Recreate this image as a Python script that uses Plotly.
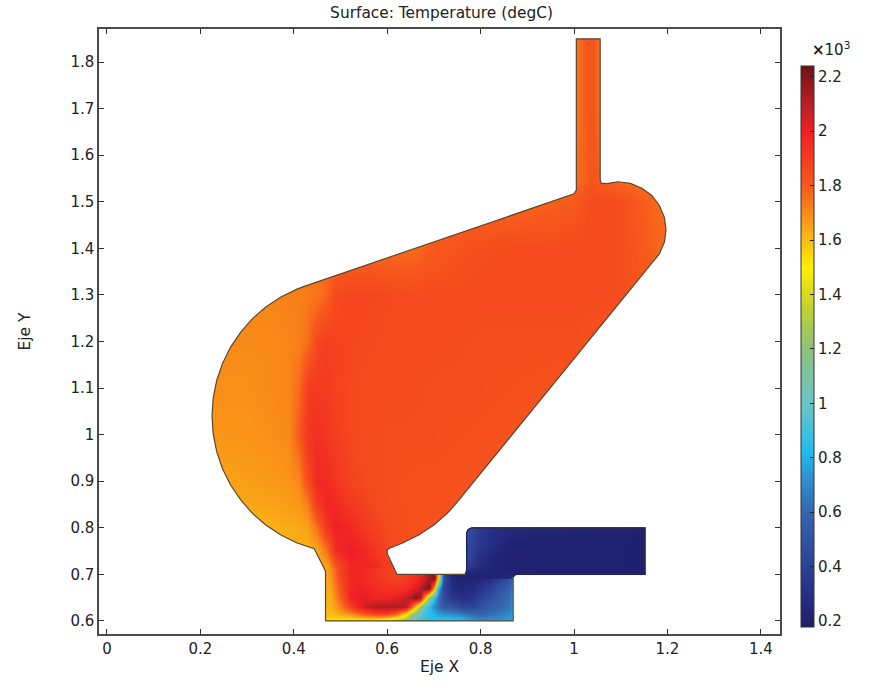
import plotly.graph_objects as go

CB_MIN, CB_MAX = 0.178, 2.24
cmap_values = [0.178, 0.3, 0.45, 0.6, 0.72, 0.82, 1.0, 1.2, 1.35, 1.5, 1.62, 1.8, 2.0, 2.1, 2.24]
cmap_colors = ["#1d1d6b", "#262f86", "#2f4a9c", "#3566ad", "#2f8fd0", "#1fbcee", "#6cc5c6", "#8cc37c",
               "#c2d12f", "#fff000", "#fbb116", "#f7591c", "#f01f24", "#b81f24", "#6e1216"]

# upper body (values x 10^3)
upper_x = [.20, .25, .30, .35, .39, .41, .43, .45, .47, .49, .52, .56, .60, .65, .70, .80, .90, 1.0, 1.02, 1.04, 1.06, 1.10, 1.15, 1.20]
upper_y = [.70, .75, .80, .85, .90, 1.0, 1.1, 1.2, 1.3, 1.4, 1.5, 1.55, 1.7, 1.85]
upper_t = [
 [1.6, 1.6, 1.6, 1.6, 1.6, 1.6, 1.6, 1.6, 1.6, 1.75, 1.95, 2.0, 1.92, 1.88, 1.85, 1.85, 1.85, 1.85, 1.85, 1.85, 1.85, 1.85, 1.85, 1.85],
 [1.62, 1.62, 1.62, 1.62, 1.62, 1.62, 1.62, 1.63, 1.75, 1.95, 2.02, 1.95, 1.87, 1.84, 1.82, 1.82, 1.82, 1.82, 1.82, 1.82, 1.82, 1.82, 1.82, 1.82],
 [1.6, 1.6, 1.61, 1.62, 1.63, 1.64, 1.65, 1.75, 1.92, 2.0, 1.97, 1.9, 1.85, 1.83, 1.82, 1.82, 1.82, 1.82, 1.82, 1.82, 1.82, 1.82, 1.82, 1.82],
 [1.62, 1.63, 1.64, 1.65, 1.66, 1.67, 1.72, 1.9, 1.98, 1.96, 1.92, 1.87, 1.84, 1.83, 1.83, 1.82, 1.82, 1.82, 1.82, 1.82, 1.82, 1.82, 1.82, 1.82],
 [1.64, 1.65, 1.66, 1.67, 1.68, 1.70, 1.85, 1.97, 1.96, 1.92, 1.88, 1.85, 1.84, 1.83, 1.83, 1.82, 1.82, 1.8, 1.8, 1.8, 1.8, 1.8, 1.8, 1.8],
 [1.67, 1.68, 1.68, 1.69, 1.70, 1.80, 1.92, 1.94, 1.92, 1.89, 1.86, 1.85, 1.84, 1.84, 1.84, 1.83, 1.82, 1.8, 1.8, 1.8, 1.8, 1.8, 1.8, 1.8],
 [1.69, 1.69, 1.69, 1.70, 1.71, 1.76, 1.89, 1.91, 1.90, 1.88, 1.86, 1.85, 1.85, 1.85, 1.84, 1.84, 1.83, 1.82, 1.81, 1.81, 1.8, 1.8, 1.8, 1.8],
 [1.69, 1.7, 1.7, 1.7, 1.71, 1.72, 1.76, 1.86, 1.89, 1.88, 1.87, 1.86, 1.85, 1.85, 1.85, 1.84, 1.84, 1.84, 1.83, 1.83, 1.82, 1.81, 1.79, 1.78],
 [1.7, 1.7, 1.71, 1.71, 1.72, 1.72, 1.73, 1.74, 1.78, 1.85, 1.87, 1.87, 1.86, 1.85, 1.85, 1.85, 1.85, 1.85, 1.85, 1.85, 1.85, 1.84, 1.81, 1.78],
 [1.76, 1.76, 1.76, 1.76, 1.76, 1.76, 1.76, 1.76, 1.76, 1.76, 1.76, 1.76, 1.76, 1.76, 1.8, 1.84, 1.85, 1.85, 1.85, 1.85, 1.85, 1.84, 1.8, 1.76],
 [1.77, 1.77, 1.77, 1.77, 1.77, 1.77, 1.77, 1.77, 1.77, 1.77, 1.77, 1.77, 1.77, 1.77, 1.77, 1.77, 1.77, 1.8, 1.83, 1.85, 1.85, 1.84, 1.79, 1.75],
 [1.75, 1.75, 1.75, 1.75, 1.75, 1.75, 1.75, 1.75, 1.75, 1.75, 1.75, 1.75, 1.75, 1.75, 1.75, 1.75, 1.75, 1.76, 1.78, 1.82, 1.79, 1.76, 1.76, 1.76],
 [1.72, 1.72, 1.72, 1.72, 1.72, 1.72, 1.72, 1.72, 1.72, 1.72, 1.72, 1.72, 1.72, 1.72, 1.72, 1.72, 1.72, 1.72, 1.79, 1.82, 1.72, 1.72, 1.72, 1.72],
 [1.72, 1.72, 1.72, 1.72, 1.72, 1.72, 1.72, 1.72, 1.72, 1.72, 1.72, 1.72, 1.72, 1.72, 1.72, 1.72, 1.72, 1.72, 1.79, 1.82, 1.72, 1.72, 1.72, 1.72],
]

# lower chamber
lower_x = [.46, .48, .50, .52, .54, .56, .58, .60, .62, .64, .65, .66, .67, .68, .69, .70, .71, .72, .74, .76, .78, .80, .82, .84, .86, .875]
lower_y = [.595, .605, .615, .63, .65, .67, .69, .705]
lower_t = [
 [1.55, 1.52, 1.5, 1.48, 1.48, 1.48, 1.46, 1.42, 1.3, 1.15, 1.05, .95, .9, .88, .85, .85, .85, .85, .85, .82, .78, .78, .78, .8, .82, .85],
 [1.56, 1.56, 1.55, 1.55, 1.56, 1.58, 1.58, 1.54, 1.46, 1.3, 1.15, 1.0, .92, .88, .85, .85, .85, .85, .82, .8, .72, .68, .7, .72, .75, .85],
 [1.58, 1.6, 1.64, 1.7, 1.78, 1.85, 1.9, 1.9, 1.8, 1.55, 1.35, 1.15, 1.0, .9, .85, .8, .75, .72, .7, .65, .6, .58, .62, .65, .7, .85],
 [1.6, 1.62, 1.72, 1.88, 2.0, 2.08, 2.12, 2.13, 2.13, 2.1, 1.9, 1.6, 1.25, 1.0, .85, .7, .62, .55, .5, .42, .42, .48, .55, .6, .65, .85],
 [1.6, 1.63, 1.78, 1.98, 2.02, 2.0, 1.98, 1.98, 2.02, 2.08, 2.12, 2.2, 2.15, 1.7, 1.2, .85, .65, .45, .35, .3, .33, .4, .48, .55, .62, .85],
 [1.6, 1.66, 1.82, 1.97, 2.0, 1.98, 1.95, 1.93, 1.93, 1.95, 1.98, 2.03, 2.1, 2.18, 2.2, 1.6, .8, .45, .28, .25, .27, .33, .4, .5, .58, .8],
 [1.6, 1.68, 1.85, 1.97, 1.98, 1.95, 1.92, 1.9, 1.88, 1.9, 1.93, 1.96, 2.0, 2.06, 2.15, 2.2, 1.5, .5, .25, .22, .23, .25, .3, .38, .5, .75],
 [1.6, 1.7, 1.88, 1.98, 1.98, 1.95, 1.92, 1.88, 1.86, 1.88, 1.9, 1.93, 1.97, 2.03, 2.12, 2.2, 1.6, .45, .23, .2, .21, .22, .24, .27, .35, .7],
]

# outlet duct
duct_x = [.76, .78, .80, .83, .87, .92, 1.0, 1.1, 1.16]
duct_y = [.70, .72, .74, .77, .80]
duct_t = [
 [.22, .22, .22, .22, .25, .2, .2, .2, .19],
 [.4, .35, .27, .22, .2, .2, .2, .2, .19],
 [.45, .4, .3, .24, .2, .2, .2, .2, .19],
 [.5, .42, .35, .27, .22, .2, .2, .2, .19],
 [.55, .45, .35, .3, .27, .25, .24, .23, .2],
]

# geometry outline
outline_x = [.468, .87, .87, .875, 1.152, 1.152, .781, .773, .77, .77, .767, .621, .60, .60, .605, .633, .6675, .70, .729, .749,
             1.183, 1.1935, 1.197, 1.1935, 1.183, 1.167, 1.1455, 1.1207, 1.094, 1.07, 1.058, 1.056, 1.056, 1.005, 1.005, 1.0,
             .424, .407, .3725, .340, .311, .286, .2645, .2475, .235, .2275, .225, .2275, .235, .2475, .2645, .286, .311, .340,
             .3725, .407, .444, .468, .468]
outline_y = [.60, .60, .695, .70, .70, .80, .80, .796, .788, .708, .70, .70, .745, .753, .756, .7675, .7845, .806, .8314, .854,
             1.3885, 1.4133, 1.44, 1.4667, 1.4915, 1.513, 1.529, 1.5395, 1.543, 1.539, 1.54, 1.548, 1.85, 1.85, 1.525, 1.517,
             1.319, 1.3125, 1.2955, 1.274, 1.2486, 1.2196, 1.1875, 1.153, 1.1164, 1.0785, 1.04, 1.0015, .9636, .927, .8925, .8604,
             .8314, .806, .7845, .7675, .755, .707, .60]

x_range = [-0.017, 1.441]
y_range = [0.572, 1.871]
x_ticks_step = 0.2
y_ticks_step = 0.1
cb_ticks = [0.2, 0.4, 0.6, 0.8, 1.0, 1.2, 1.4, 1.6, 1.8, 2.0, 2.2]
cb_ticktext = ["0.2", "0.4", "0.6", "0.8", "1", "1.2", "1.4", "1.6", "1.8", "2", "2.2"]

colorscale = [[(v - CB_MIN) / (CB_MAX - CB_MIN), c] for v, c in zip(cmap_values, cmap_colors)]
TXT = "#222222"
FONT = "DejaVu Sans"

fig = go.Figure()
for xs, ys, zs in [(upper_x, upper_y, upper_t), (lower_x, lower_y, lower_t), (duct_x, duct_y, duct_t)]:
    fig.add_trace(go.Heatmap(x=xs, y=ys, z=zs, coloraxis="coloraxis", zsmooth="best", hoverinfo="skip"))

# white mask outside geometry (outer ring wound opposite to the outline)
mask_x = [x_range[0], x_range[0], x_range[1], x_range[1], x_range[0], None] + outline_x
mask_y = [y_range[0], y_range[1], y_range[1], y_range[0], y_range[0], None] + outline_y
fig.add_trace(go.Scatter(x=mask_x, y=mask_y, mode="lines", fill="toself", fillcolor="white",
                         line=dict(width=0), hoverinfo="skip", showlegend=False))
fig.add_trace(go.Scatter(x=outline_x, y=outline_y, mode="lines", line=dict(color="#5a4830", width=1.2),
                         hoverinfo="skip", showlegend=False))
# cold walls have a blue-tinted edge
fig.add_trace(go.Scatter(x=outline_x[1:3], y=outline_y[1:3], mode="lines", line=dict(color="#2c86b4", width=1.2),
                         hoverinfo="skip", showlegend=False))
fig.add_trace(go.Scatter(x=outline_x[2:11], y=outline_y[2:11], mode="lines", line=dict(color="#1b1d60", width=1.2),
                         hoverinfo="skip", showlegend=False))

axis = dict(showgrid=False, zeroline=False, showline=True, linecolor="#4a4a4a", linewidth=1.5, mirror="allticks",
            ticks="inside", ticklen=5, tickcolor="#333333", tickwidth=1,
            tickfont=dict(family=FONT, size=15, color=TXT))
fig.update_layout(
    width=877, height=695, autosize=False,
    margin=dict(l=99, r=97, t=29, b=60.5),
    paper_bgcolor="white", plot_bgcolor="white",
    showlegend=False,
    font=dict(family=FONT, color=TXT),
    title=dict(text="Surface: Temperature (degC)", x=0.503, xref="paper", xanchor="center", y=0.982, yanchor="middle",
               font=dict(family=FONT, size=15.4, color=TXT)),
    xaxis=dict(range=x_range, tick0=0, dtick=x_ticks_step, title=dict(text="Eje X", standoff=4, font=dict(family=FONT, size=15.5, color=TXT)), **axis),
    yaxis=dict(range=y_range, tick0=0.6, dtick=y_ticks_step, title=dict(text="Eje Y", standoff=36, font=dict(family=FONT, size=15.5, color=TXT)), **axis),
    coloraxis=dict(cmin=CB_MIN, cmax=CB_MAX, colorscale=colorscale,
                   colorbar=dict(x=1.031, xanchor="left", xpad=0, ypad=0, y=0.939, yanchor="top", len=561, lenmode="pixels",
                                 thickness=13, thicknessmode="pixels", outlinecolor="#333333", outlinewidth=1,
                                 ticks="inside", ticklen=4, tickcolor="#222222", tickwidth=1,
                                 tickvals=cb_ticks, ticktext=cb_ticktext,
                                 tickfont=dict(family=FONT, size=15, color=TXT))),
    annotations=[dict(text="<b>×</b>10<sup>3</sup>", xref="paper", yref="paper", x=1.075, y=0.967, xanchor="center", yanchor="middle",
                      showarrow=False, font=dict(family=FONT, size=15, color=TXT))],
)
fig.write_html("out.html", config={"displayModeBar": False}, post_script="document.body.style.margin='0';")
